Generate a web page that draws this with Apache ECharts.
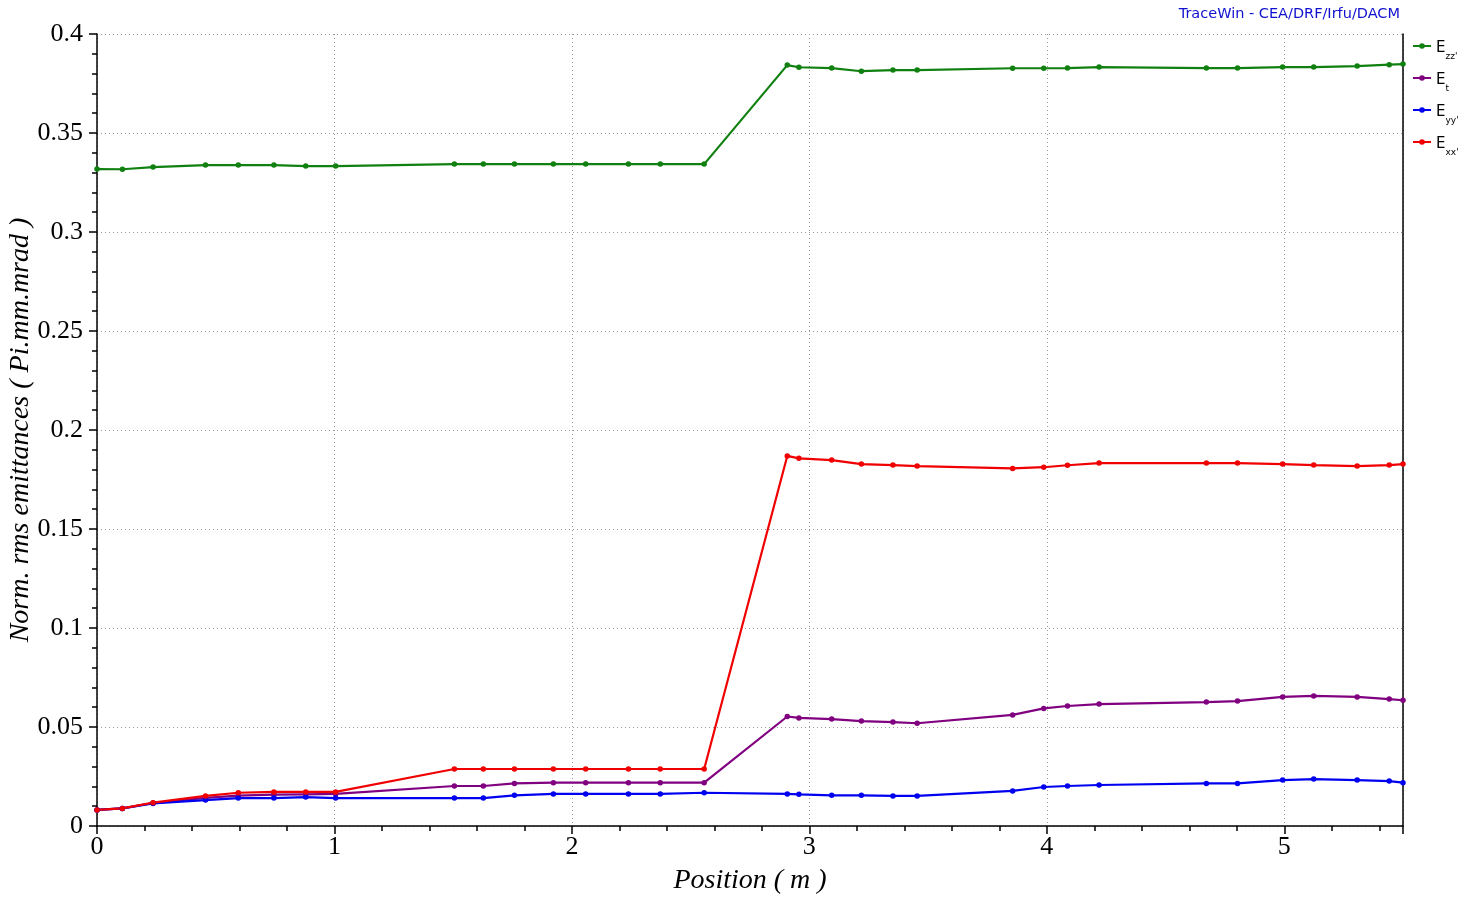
<!DOCTYPE html>
<html><head><meta charset="utf-8">
<script src="https://cdn.jsdelivr.net/npm/echarts@6/dist/echarts.min.js"></script>
<style>html,body{margin:0;padding:0;background:#fff}#c{width:1465px;height:897px}</style>
</head><body><div id="c"></div>
<script>
const positions = [0, 0.107, 0.236, 0.457, 0.595, 0.745, 0.879, 1.005, 1.505, 1.627, 1.758, 1.922, 2.058, 2.238, 2.372, 2.557, 2.907, 2.956, 3.094, 3.219, 3.352, 3.454, 3.856, 3.987, 4.087, 4.22, 4.672, 4.803, 4.993, 5.124, 5.307, 5.442, 5.5];
const ezz = [0.3318, 0.3317, 0.3328, 0.3338, 0.3338, 0.3338, 0.3333, 0.3333, 0.3343, 0.3343, 0.3343, 0.3343, 0.3343, 0.3343, 0.3343, 0.3343, 0.3843, 0.3832, 0.3828, 0.3812, 0.3818, 0.3818, 0.3827, 0.3827, 0.3828, 0.3833, 0.3828, 0.3828, 0.3833, 0.3833, 0.3838, 0.3845, 0.3848];
const et = [0.0081, 0.0089, 0.0116, 0.0142, 0.0153, 0.0158, 0.016, 0.0162, 0.0202, 0.0202, 0.0215, 0.0219, 0.0219, 0.0219, 0.0219, 0.0219, 0.0553, 0.0546, 0.054, 0.053, 0.0525, 0.0519, 0.0561, 0.0594, 0.0606, 0.0616, 0.0626, 0.0631, 0.0652, 0.0657, 0.0652, 0.0641, 0.0635];
const eyy = [0.0081, 0.0089, 0.0114, 0.0131, 0.0141, 0.0141, 0.0146, 0.0141, 0.0141, 0.0141, 0.0155, 0.0162, 0.0162, 0.0162, 0.0162, 0.0168, 0.0162, 0.016, 0.0155, 0.0155, 0.0152, 0.0152, 0.0177, 0.0197, 0.0202, 0.0207, 0.0215, 0.0215, 0.0232, 0.0237, 0.0232, 0.0227, 0.0219];
const exx = [0.0081, 0.0089, 0.0118, 0.0152, 0.0168, 0.0172, 0.0172, 0.0172, 0.0288, 0.0288, 0.0288, 0.0288, 0.0288, 0.0288, 0.0288, 0.0288, 0.1869, 0.1857, 0.1848, 0.1828, 0.1823, 0.1818, 0.1806, 0.1812, 0.1822, 0.1833, 0.1833, 0.1833, 0.1828, 0.1823, 0.1818, 0.1823, 0.1828];
const seriesNames = ["Ezz'", "Et", "Eyy'", "Exx'"];
const legendSubs = {"Ezz'": "zz'", "Et": "t", "Eyy'": "yy'", "Exx'": "xx'"};
const colors = {"Ezz'": '#108010', "Et": '#800080', "Eyy'": '#0000f0', "Exx'": '#f00000'};
const xTitle = 'Position ( m )';
const yTitle = 'Norm. rms emittances ( Pi.mm.mrad )';
const credit = 'TraceWin - CEA/DRF/Irfu/DACM';

const zip = ys => positions.map((x, i) => [x, ys[i]]);
const dataMap = {"Ezz'": ezz, "Et": et, "Eyy'": eyy, "Exx'": exx};

const chart = echarts.init(document.getElementById('c'));
const serif = '"Liberation Serif", "Times New Roman", serif';
chart.setOption({
  animation: false,
  backgroundColor: '#fff',
  title: {
    text: credit, right: 60, top: 2,
    textStyle: {color: '#1010d0', fontSize: 14.5, fontWeight: 'normal', fontFamily: '"DejaVu Sans", sans-serif'}
  },
  legend: {
    data: seriesNames, orient: 'vertical', left: 1407, top: 36,
    itemWidth: 18, itemHeight: 7, itemGap: 12,
    formatter: n => '{b|E}{s|' + legendSubs[n] + '}',
    textStyle: {
      color: '#000',
      rich: {
        b: {fontSize: 15, fontFamily: '"DejaVu Sans", sans-serif', color: '#000', lineHeight: 20, verticalAlign: 'bottom'},
        s: {fontSize: 9, fontFamily: '"DejaVu Sans", sans-serif', color: '#000', lineHeight: 20, verticalAlign: 'bottom', padding: [0, 0, -5, 0]}
      }
    }
  },
  grid: {left: 97, right: 62, top: 34, bottom: 71, containLabel: false, outerBoundsMode: 'none'},
  xAxis: {
    type: 'value', min: 0, max: 5.5, interval: 1,
    name: xTitle, nameLocation: 'middle', nameGap: 41, nameMoveOverlap: false,
    nameTextStyle: {fontFamily: serif, fontStyle: 'italic', fontSize: 28, color: '#000'},
    axisLine: {lineStyle: {color: '#000', width: 1.5}},
    axisTick: {show: true, length: 8, inside: false, lineStyle: {color: '#000', width: 1.5}},
    minorTick: {show: true, splitNumber: 5, length: 5, lineStyle: {color: '#000', width: 1.5}},
    axisLabel: {fontFamily: serif, fontSize: 26, color: '#000', margin: 8, showMaxLabel: false},
    splitLine: {show: true, lineStyle: {color: '#999', type: [1, 3], width: 1}}
  },
  yAxis: [{
    type: 'value', min: 0, max: 0.4, interval: 0.05,
    name: yTitle, nameLocation: 'middle', nameGap: 62, nameRotate: 90, nameMoveOverlap: false,
    nameTextStyle: {fontFamily: serif, fontStyle: 'italic', fontSize: 28, color: '#000'},
    axisLine: {show: true, lineStyle: {color: '#000', width: 1.5}},
    axisTick: {show: true, length: 8, lineStyle: {color: '#000', width: 1.5}},
    minorTick: {show: true, splitNumber: 5, length: 5, lineStyle: {color: '#000', width: 1.5}},
    axisLabel: {fontFamily: serif, fontSize: 26, color: '#000', margin: 14},
    splitLine: {show: true, lineStyle: {color: '#999', type: [1, 3], width: 1}}
  }, {
    type: 'value', min: 0, max: 0.4, interval: 0.05, position: 'right',
    axisLine: {show: true, lineStyle: {color: '#000', width: 1.5}},
    axisTick: {show: false}, axisLabel: {show: false}, splitLine: {show: false}
  }],
  series: seriesNames.map(n => ({
    name: n, type: 'line', data: zip(dataMap[n]),
    symbol: 'circle', symbolSize: 5.5,
    lineStyle: {width: 2.2, color: colors[n]},
    itemStyle: {color: colors[n]},
    emphasis: {disabled: true}
  }))
});
</script></body></html>
